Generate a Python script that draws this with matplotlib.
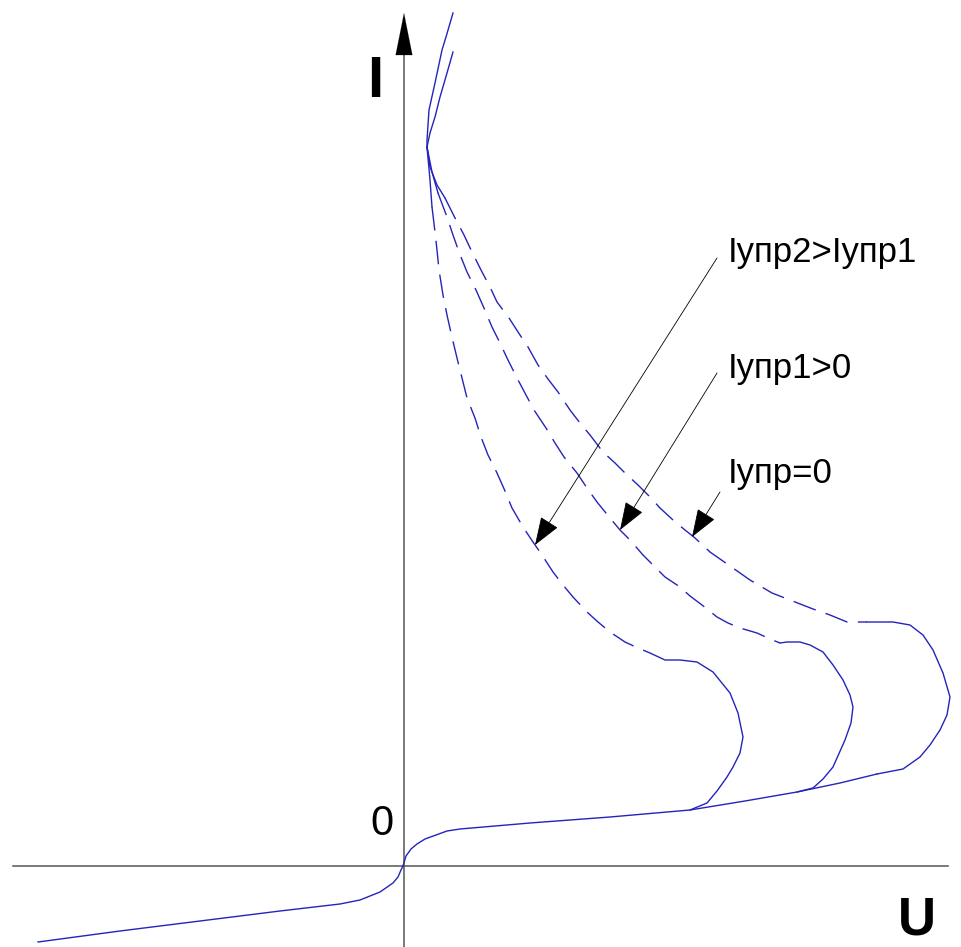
import matplotlib
matplotlib.use('Agg')
import matplotlib.pyplot as plt
from matplotlib import font_manager

# --- Data (U, I in picture units, origin at the axes crossing) ---
# reverse branch (third quadrant)
rev_u = [-365, -283, -203, -123, -63, -43, -23, -10, -5, -2, 0]
rev_i = [-76, -65, -55, -45, -38, -34, -26, -17, -11, -4, 0]

# forward blocking branch
fwd_u = [0, 3, 8, 14, 22, 33, 44, 57, 127, 207, 287, 342, 394, 437, 474]
fwd_i = [0, 10, 17, 22, 27, 31, 35, 37, 43, 49, 56, 65, 74, 83, 92]

# on-state (two nearly coincident solid lines at the top)
on_a_u = [50, 43, 39, 32, 26, 24, 24]
on_a_i = [853, 829, 816, 783, 756, 726, 719]
on_b_u = [50, 44, 37, 32, 27, 24]
on_b_i = [814, 793, 769, 749, 733, 719]

# Iупр=0 branch
b0_u = [24, 27, 34, 42, 52, 61, 69, 78, 87, 94, 106, 117, 125, 135, 145, 155, 167, 177,
        187, 200, 212, 222, 235, 247, 257, 270, 282, 292, 307, 327, 347, 369, 387, 410,
        427, 444, 464, 490, 507, 520, 530, 540, 547, 544, 537, 527, 517, 500, 474]
b0_i = [719, 699, 681, 668, 648, 631, 614, 596, 579, 564, 548, 531, 519, 501, 487, 474,
        456, 443, 431, 414, 403, 393, 381, 369, 358, 346, 336, 328, 314, 300, 286, 273,
        266, 257, 251, 244, 244, 244, 241, 231, 216, 193, 169, 151, 136, 121, 109, 97, 92]

# Iупр1>0 branch
b1_u = [24, 29, 35, 44, 50, 56, 64, 73, 81, 89, 97, 104, 114, 123, 131, 143, 152, 161,
        174, 184, 194, 207, 217, 227, 240, 252, 262, 277, 287, 299, 314, 325, 337, 354,
        367, 377, 384, 397, 407, 420, 430, 440, 447, 450, 448, 442, 430, 420, 410, 394]
b1_i = [719, 694, 673, 649, 631, 614, 594, 576, 558, 539, 523, 508, 488, 471, 456, 438,
        423, 409, 393, 378, 364, 348, 336, 326, 311, 299, 289, 279, 270, 261, 249, 243,
        238, 233, 227, 223, 224, 224, 221, 214, 201, 186, 171, 159, 143, 126, 99, 87, 78, 74]

# Iупр2>Iупр1 branch
b2_u = [24, 27, 29, 32, 34, 36, 40, 44, 48, 54, 59, 64, 72, 78, 85, 94, 102, 109, 120,
        130, 139, 150, 160, 170, 184, 195, 207, 222, 235, 247, 262, 277, 294, 310, 327,
        335, 340, 337, 330, 324, 314, 304, 287]
b2_i = [719, 686, 659, 634, 616, 596, 571, 551, 533, 508, 488, 468, 448, 429, 411, 393,
        375, 358, 339, 324, 311, 294, 281, 269, 254, 244, 234, 224, 218, 213, 206, 206,
        204, 194, 173, 153, 129, 113, 99, 89, 75, 63, 56]

# index range of the dashed (negative resistance) part of each branch
b0_dash = (3, 36)
b1_dash = (2, 35)
b2_dash = (2, 30)

labels = ['Iупр2>Iупр1', 'Iупр1>0', 'Iупр=0']
label_pos = [(325, 604), (325, 488), (325, 383)]
label_tail = [(314, 608), (314, 493), (317, 374)]
label_tip = [(132, 321), (217, 336), (289, 329)]

# --- Fonts ---
names = {f.name for f in font_manager.fontManager.ttflist}
if 'Liberation Sans Narrow' in names:
    fam = ['Liberation Sans Narrow', 'DejaVu Sans']
    lab_size, big, zero = 29, 45, 35
else:
    fam = ['Liberation Sans', 'DejaVu Sans']
    lab_size, big, zero = 25, 38, 30

blue = '#2424bc'
lw = 1.0
dash = (0, (17, 7.5))

fig = plt.figure(figsize=(9.61, 9.47), dpi=100)
ax = fig.add_axes([0, 0, 1, 1])
ax.set_xlim(-403, 558)
ax.set_ylim(-81, 866)
ax.axis('off')

# axes
ax.plot([-390, 545], [0, 0], color='#555555', lw=1.1)
ax.plot([1, 1], [-81, 815], color='#555555', lw=1.1)
ax.annotate('', xy=(1, 853), xytext=(1, 811),
            arrowprops=dict(arrowstyle='-|>,head_length=30,head_width=6', mutation_scale=1,
                            color='black', lw=0.1, shrinkA=0, shrinkB=0))
ax.annotate('', xy=(570, 0), xytext=(539, 0),
            arrowprops=dict(arrowstyle='-|>,head_length=24,head_width=10.5', mutation_scale=1,
                            color='black', lw=0.1, shrinkA=0, shrinkB=0))

# curves
ax.plot(rev_u, rev_i, color=blue, lw=lw)
ax.plot(fwd_u, fwd_i, color=blue, lw=lw)
ax.plot(on_a_u, on_a_i, color=blue, lw=lw)
ax.plot(on_b_u, on_b_i, color=blue, lw=lw)
for bu, bi, (s, e) in [(b0_u, b0_i, b0_dash), (b1_u, b1_i, b1_dash), (b2_u, b2_i, b2_dash)]:
    ax.plot(bu[:s + 1], bi[:s + 1], color=blue, lw=lw)
    ax.plot(bu[s:e + 1], bi[s:e + 1], color=blue, lw=lw, linestyle=dash)
    ax.plot(bu[e:], bi[e:], color=blue, lw=lw)

# axis labels
ax.text(-28, 769, 'I', family=fam, fontsize=big + 4, fontweight='bold', ha='center', va='baseline')
ax.text(-21, 31, '0', family=fam, fontsize=zero, ha='center', va='baseline')
ax.text(514, -79, 'U', family=fam, fontsize=big, fontweight='bold', ha='center', va='bottom')

# curve labels with arrows
for txt, (x, y), tail, tip in zip(labels, label_pos, label_tail, label_tip):
    ax.text(x, y, txt, family=fam, fontsize=lab_size, ha='left', va='baseline')
    ax.annotate('', xy=tip, xytext=tail,
                arrowprops=dict(arrowstyle='-|>,head_length=18,head_width=6.5', mutation_scale=1,
                                color='black', lw=0.6, shrinkA=0, shrinkB=0))

fig.savefig('out.png', dpi=100)
